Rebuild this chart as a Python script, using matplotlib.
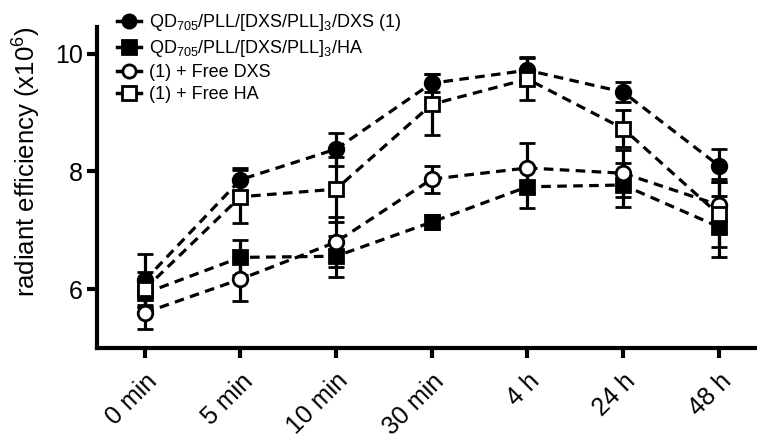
import matplotlib.pyplot as plt
from matplotlib.lines import Line2D
import numpy as np

plt.rcParams['font.family'] = ['Liberation Sans', 'DejaVu Sans']
plt.rcParams['mathtext.default'] = 'regular'

times = ['0 min', '5 min', '10 min', '30 min', '4 h', '24 h', '48 h']

# series values (x10^6) and error bars
dxs1 = [6.15, 7.86, 8.38, 9.50, 9.72, 9.35, 8.10]
dxs1_err = [0.45, 0.20, 0.28, 0.15, 0.22, 0.17, 0.28]
ha = [5.93, 6.54, 6.56, 7.14, 7.74, 7.77, 7.06]
ha_err = [0.20, 0.30, 0.35, 0.12, 0.36, 0.38, 0.52]
free_dxs = [5.60, 6.17, 6.80, 7.87, 8.06, 7.97, 7.43]
free_dxs_err = [0.27, 0.37, 0.42, 0.23, 0.42, 0.40, 0.45]
free_ha = [6.00, 7.57, 7.70, 9.14, 9.57, 8.73, 7.27]
free_ha_err = [0.30, 0.45, 0.55, 0.52, 0.35, 0.32, 0.55]

labels = ['QD$_{705}$/PLL/[DXS/PLL]$_3$/DXS (1)',
          'QD$_{705}$/PLL/[DXS/PLL]$_3$/HA',
          '(1) + Free DXS',
          '(1) + Free HA']

fig = plt.figure(figsize=(7.57, 4.40), dpi=100)
ax = fig.add_axes([0.128, 0.209, 0.872, 0.729])

x = np.arange(len(times))
series = [(dxs1, dxs1_err, 'o', 'black'),
          (ha, ha_err, 's', 'black'),
          (free_dxs, free_dxs_err, 'o', 'white'),
          (free_ha, free_ha_err, 's', 'white')]

handles = []
for (y, e, m, fc), lab in zip(series, labels):
    ax.errorbar(x, y, yerr=e, fmt=m, ls=(0, (3, 2)), color='black',
                mfc=fc, mec='black', mew=2, ms=10.5, lw=2.3, elinewidth=2.3,
                capsize=6, capthick=2.5)
    # legend key: marker on a short solid line, as in the figure
    handles.append(Line2D([], [], color='black', lw=2.5, marker=m, mfc=fc,
                          mec='black', mew=2, ms=9.5, label=lab))

ax.set_xlim(-0.5, 6.4)
ax.set_ylim(5.0, 10.45)
ax.set_yticks([6, 8, 10])
ax.set_xticks(x)
ax.set_xticklabels(times, rotation=45, ha='right', rotation_mode='anchor')

for s in ['top', 'right']:
    ax.spines[s].set_visible(False)
for s in ['left', 'bottom']:
    ax.spines[s].set_linewidth(3)
ax.tick_params(axis='both', width=3, length=7, labelsize=18, pad=3)
ax.tick_params(axis='x', pad=8)

ax.set_ylabel('radiant efficiency (x10$^6$)', fontsize=18.5)
ax.yaxis.set_label_coords(-0.082, 0.58)

ax.legend(handles=handles, loc='upper left', bbox_to_anchor=(0.02, 1.07),
          frameon=False, fontsize=13, handlelength=1.3, handletextpad=0.45,
          labelspacing=0.28, borderaxespad=0)

fig.savefig('out.png', dpi=100)
